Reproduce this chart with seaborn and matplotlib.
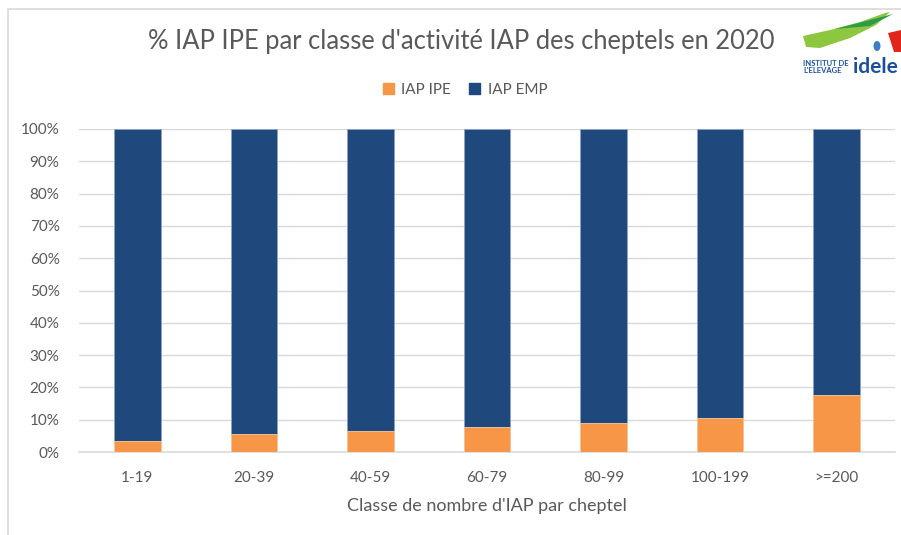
import matplotlib
matplotlib.use("Agg")
import matplotlib.pyplot as plt
from matplotlib.patches import Rectangle, Patch, Polygon, Ellipse
import pandas as pd
import seaborn as sns

classes = ["1-19", "20-39", "40-59", "60-79", "80-99", "100-199", ">=200"]
ipe_pct = [3.4, 5.6, 6.5, 7.7, 9.1, 10.5, 17.6]
emp_pct = [100 - v for v in ipe_pct]

ORANGE = "#F79646"
NAVY = "#1F497D"
GREY = "#595959"

sns.set_theme(style="white")
plt.rcParams["font.family"] = ["Lato", "DejaVu Sans"]

df = pd.DataFrame({"classe": classes, "IAP IPE": ipe_pct, "IAP EMP": emp_pct})
df["total"] = df["IAP IPE"] + df["IAP EMP"]

fig = plt.figure(figsize=(9.01, 5.35), dpi=100)
ax = fig.add_axes([79 / 901, 1 - 452 / 535, 816 / 901, 323 / 535])

sns.barplot(data=df, x="classe", y="total", color=NAVY, width=0.4,
            saturation=1, ax=ax, edgecolor="#8EA4C2", linewidth=0.6, zorder=2)
sns.barplot(data=df, x="classe", y="IAP IPE", color=ORANGE, width=0.4,
            saturation=1, ax=ax, edgecolor="#FBC9A0", linewidth=0.6, zorder=3)

ax.set_ylim(0, 100)
ax.set_xlim(-0.5, len(classes) - 0.5)
ax.set_yticks(range(0, 101, 10))
ax.set_yticklabels([f"{v}%" for v in range(0, 101, 10)])
ax.yaxis.grid(True, color="#D9D9D9", linewidth=1, zorder=0)
ax.set_axisbelow(True)
for s in ["top", "right", "left"]:
    ax.spines[s].set_visible(False)
ax.spines["bottom"].set_color("#D9D9D9")
ax.spines["bottom"].set_linewidth(1.2)
ax.tick_params(axis="both", length=0, labelsize=11, colors=GREY)
ax.tick_params(axis="x", pad=14)
ax.tick_params(axis="y", pad=14)
ax.set_ylabel("")
ax.set_xlabel("Classe de nombre d'IAP par cheptel", fontsize=13, color=GREY, labelpad=9)

fig.text(461 / 901, 1 - 42 / 535, "% IAP IPE par classe d'activité IAP des cheptels en 2020",
         ha="center", va="center", fontsize=18.4, color=GREY)

handles = [Patch(color=ORANGE, label="IAP IPE"), Patch(color=NAVY, label="IAP EMP")]
fig.legend(handles=handles, loc="center", bbox_to_anchor=(465 / 901, 1 - 90 / 535),
           ncol=2, frameon=False, fontsize=11, labelcolor=GREY,
           handlelength=0.7, handleheight=0.7, columnspacing=1.2, handletextpad=0.5)

# chart frame
fig.patches.append(Rectangle((8 / 901, -0.1), 1.0, 1 - 9 / 535 + 0.1, transform=fig.transFigure,
                             fill=False, edgecolor="#D9D9D9", linewidth=1.2))

# logo
def px(x, y):
    return (x / 901, 1 - y / 535)

swoosh = [px(803, 36), px(830, 30), px(860, 22), px(885, 13), px(890, 12),
          px(876, 25), px(850, 38), px(820, 48), px(806, 47)]
fig.patches.append(Polygon(swoosh, closed=True, transform=fig.transFigure,
                           facecolor="#8DC63F", edgecolor="none"))
fig.patches.append(Polygon([px(835, 29), px(870, 20), px(893, 14), px(870, 26)], closed=True,
                           transform=fig.transFigure, facecolor="#2E9B47", edgecolor="none"))
fig.patches.append(Ellipse(px(877, 46), 7 / 901, 10 / 535, transform=fig.transFigure,
                           facecolor="#3A7FC1", edgecolor="none"))
fig.patches.append(Polygon([px(888, 33), px(901, 30), px(901, 52), px(894, 52)], closed=True,
                           transform=fig.transFigure, facecolor="#E1251B", edgecolor="none"))
fig.text(803 / 901, 1 - 67 / 535, "INSTITUT DE\nL'ELEVAGE", ha="left", va="center",
         fontsize=5.5, fontweight="bold", color="#1B4F9C", linespacing=1.0)
fig.text(853 / 901, 1 - 67 / 535, "idele", ha="left", va="center",
         fontsize=15, fontweight="bold", color="#1B4F9C")

fig.savefig("out.png", dpi=100)
